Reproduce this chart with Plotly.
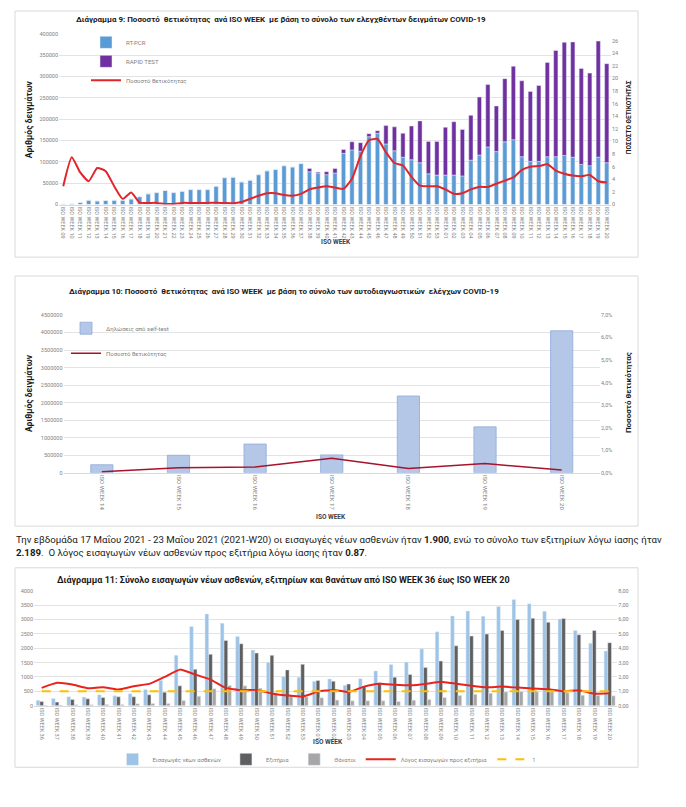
import plotly.graph_objects as go

# page body has an 8px margin, so the figure is drawn 8px in from the window edge
OFF = 8
W, H = 686 - OFF, 807 - OFF
def X(p):
    return (p - OFF) / W
def Y(p):
    return 1 - (p - OFF) / H

# ---------------- Chart 9 data ----------------
periods9 = (["2020-W%02d" % w for w in range(9, 54)] +
            ["2021-W%02d" % w for w in range(1, 21)])
labels9 = (["ISO WEEK %02d" % w for w in range(9, 54)] +
           ["ISO WEEK %02d" % w for w in range(1, 21)])
rt_pcr = [500, 1200, 5000, 10000, 8500, 9500, 10000, 10000, 13000, 18500,
          25000, 28000, 33000, 28000, 31000, 35000, 35000, 35000, 43000, 63000,
          64000, 53000, 57000, 70000, 79000, 82000, 91000, 88000, 96000, 77000,
          74000, 70000, 74000, 120000, 128000, 125000, 159000, 167000, 142000, 126000,
          111000, 105000, 98000, 72000, 69000,
          69000, 69000, 67000, 104000, 116000, 135000, 124000, 147000, 152000, 112000,
          101000, 101000, 112000, 112000, 115000, 111000, 94000, 91000, 111000, 98000]
rapid = [0] * 29 + [7500, 2000, 7000, 10500, 9000, 19000, 20000, 7000, 6000, 43000,
                    56000, 56000, 79000, 98000, 76000, 79000,
                    112000, 125000, 109000, 105000, 136000, 146000, 107000, 148000, 172000, 178000,
                    164000, 178000, 221000, 249000, 265000, 270000, 225000, 217000, 272000, 232000]
positivity9 = [2.9, 7.5, 5.1, 3.7, 5.8, 5.3, 2.9, 0.9, 1.9, 0.3,
               0.26, 0.26, 0.1, 0.1, 0.26, 0.26, 0.26, 0.26, 0.3, 0.26,
               0.2, 0.4, 0.9, 1.4, 1.8, 1.8, 1.5, 1.4, 1.7, 2.4,
               2.7, 2.9, 2.7, 2.5, 4.1, 7.7, 10.2, 10.4, 8.3, 6.6,
               6.2, 4.4, 3.0, 2.9, 2.9,
               2.4, 1.7, 1.8, 2.4, 2.8, 2.8, 3.3, 3.8, 4.3, 5.5,
               6.0, 6.1, 6.4, 5.4, 4.9, 4.6, 4.5, 4.7, 3.7, 3.5]

# ---------------- Chart 10 data ----------------
weeks10 = ["ISO WEEK 14", "ISO WEEK 15", "ISO WEEK 16", "ISO WEEK 17",
           "ISO WEEK 18", "ISO WEEK 19", "ISO WEEK 20"]
selftests = [230000, 500000, 820000, 510000, 2190000, 1310000, 4050000]
positivity10 = [0.05, 0.22, 0.26, 0.65, 0.19, 0.41, 0.12]

# ---------------- Chart 11 data ----------------
periods11 = (["2020-W%02d" % w for w in range(36, 54)] +
             ["2021-W%02d" % w for w in range(1, 21)])
labels11 = (["ISO WEEK %02d" % w for w in range(36, 54)] +
            ["ISO WEEK %02d" % w for w in range(1, 21)])
admissions = [190, 253, 311, 300, 380, 345, 415, 565, 887, 1751, 2753, 3191, 2869, 2408,
              1935, 1509, 1014, 991,
              853, 933, 709, 937, 1211, 1429, 1520, 1977, 2571, 3120, 3291, 3109, 3451,
              3691, 3543, 3280, 3017, 2617, 2171, 1900]
discharges = [150, 127, 219, 242, 288, 311, 311, 380, 472, 691, 1267, 1786, 2270, 2154,
              1832, 1751, 1244, 1440,
              876, 853, 754, 686, 800, 994, 1086, 1326, 1554, 2080, 2423, 2491, 2617,
              2994, 3040, 2903, 3029, 2469, 2617, 2189]
deaths = [20, 25, 35, 35, 40, 45, 70, 80, 80, 184, 334, 588, 703, 691, 610, 449, 357, 311,
          276, 196, 171, 171, 171, 149, 194, 217, 286, 354, 400, 434, 480, 491, 491, 480,
          457, 366, 354, 343]
ratio = [1.24, 1.59, 1.47, 1.22, 1.29, 1.13, 1.36, 1.52, 2.0, 2.51, 2.17, 1.82, 1.24, 1.08,
         1.1, 0.84, 0.72, 0.64,
         0.98, 1.1, 0.95, 1.33, 1.53, 1.46, 1.42, 1.51, 1.67, 1.53, 1.39, 1.28, 1.33,
         1.26, 1.19, 1.15, 1.0, 1.08, 0.84, 0.87]
ones = [1] * len(periods11)

FONT = "Roboto"
TICK = dict(family=FONT, size=5.5, color="#7f7f7f")
LEG = dict(family=FONT, size=6, color="#7f7f7f")

fig = go.Figure()

# ---- Chart 9 traces ----
fig.add_bar(x=periods9, y=rt_pcr, name="RT-PCR", marker_color="#5B9BD5",
            offset=-0.25, width=0.5, xaxis="x", yaxis="y", legend="legend",
            legendgroup="a")
fig.add_bar(x=periods9, y=rapid, base=rt_pcr, name="RAPID TEST", marker_color="#7030A0",
            offset=-0.25, width=0.5, xaxis="x", yaxis="y", legend="legend",
            legendgroup="b")
fig.add_scatter(x=periods9, y=positivity9, name="Ποσοστό θετικότητας", mode="lines",
                line=dict(color="#E0262B", width=2, shape="spline", smoothing=0.5),
                xaxis="x", yaxis="y2", legend="legend", legendgroup="c")

# ---- Chart 10 traces ----
fig.add_bar(x=weeks10, y=selftests, name="Δηλώσεις από self-test",
            marker=dict(color="#B4C7E7", line=dict(color="#8FAADC", width=0.8)),
            offset=-0.145, width=0.29, xaxis="x2", yaxis="y3", legend="legend2",
            legendgroup="d")
fig.add_scatter(x=weeks10, y=positivity10, name="Ποσοστό θετικότητας", mode="lines",
                line=dict(color="#A8122A", width=1.5),
                xaxis="x2", yaxis="y4", legend="legend2", legendgroup="e")

# ---- Chart 11 traces ----
fig.add_bar(x=periods11, y=admissions, name="Εισαγωγές νέων ασθενών", marker_color="#9DC3E6",
            offset=-0.36, width=0.24, xaxis="x3", yaxis="y5", legend="legend3")
fig.add_bar(x=periods11, y=discharges, name="Εξιτήρια", marker_color="#5F5F5F",
            offset=-0.12, width=0.24, xaxis="x3", yaxis="y5", legend="legend3")
fig.add_bar(x=periods11, y=deaths, name="Θάνατοι", marker_color="#A6A6A6",
            offset=0.12, width=0.24, xaxis="x3", yaxis="y5", legend="legend3")
fig.add_scatter(x=periods11, y=ratio, name="Λόγος εισαγωγών προς εξιτήρια", mode="lines",
                line=dict(color="#E8231E", width=2, shape="spline", smoothing=0.4),
                xaxis="x3", yaxis="y6", legend="legend3")
fig.add_scatter(x=periods11, y=ones, name="1", mode="lines",
                line=dict(color="#FFC000", width=2, dash="dash"),
                xaxis="x3", yaxis="y6", legend="legend3")

GRID = "#E3E3E3"
common_x = dict(type="category", tickangle=90, tickfont=TICK, showgrid=False,
                showline=True, linecolor="#D9D9D9", linewidth=0.8, ticks="", fixedrange=True)
common_y = dict(tickfont=TICK, gridcolor=GRID, gridwidth=0.8, zeroline=False,
                showline=False, ticks="", fixedrange=True)

shapes = []
for (x0, y0, x1, y1) in [(15, 8, 638, 256), (15, 275, 638, 527), (15, 569, 638, 770)]:
    shapes.append(dict(type="rect", xref="paper", yref="paper",
                       x0=X(x0), x1=X(x1), y0=Y(y1), y1=Y(y0),
                       line=dict(color="#D9D9D9", width=1), fillcolor="rgba(0,0,0,0)",
                       layer="below"))

def ann(text, x, y, size, bold=False, angle=0, color="#404040", xanchor="center",
        yanchor="middle", align="center"):
    return dict(text=("<b>%s</b>" % text) if bold else text, x=X(x), y=Y(y),
                xref="paper", yref="paper", showarrow=False, textangle=angle,
                font=dict(family=FONT, size=size, color=color),
                xanchor=xanchor, yanchor=yanchor, align=align)

annotations = [
    ann("Διάγραμμα 9: Ποσοστό  θετικότητας  ανά ISO WEEK  με βάση το σύνολο των ελεγχθέντων δειγμάτων COVID-19",
        281, 17, 8, bold=True, color="#1a1a1a"),
    ann("Αριθμός δειγμάτων", 29, 117, 8.5, bold=True, angle=-90, color="#1a1a1a"),
    ann("ΠΟΣΟΣΤΟ ΘΕΤΙΚΟΤΗΤΑΣ", 629, 115, 6.5, bold=True, angle=-90, color="#1a1a1a"),
    ann("ISO WEEK", 336, 241, 6.5, bold=True, color="#404040"),

    ann("Διάγραμμα 10: Ποσοστό  θετικότητας  ανά ISO WEEK  με βάση το σύνολο των αυτοδιαγνωστικών  ελέγχων COVID-19",
        284, 291, 8, bold=True, color="#1a1a1a"),
    ann("Αριθμός δειγμάτων", 29, 393, 8.5, bold=True, angle=-90, color="#1a1a1a"),
    ann("Ποσοστό θετικότητας", 628, 393, 8, bold=True, angle=-90, color="#1a1a1a"),
    ann("ISO WEEK", 331, 518, 6.5, bold=True, color="#404040"),

    ann("Την εβδομάδα 17 Μαΐου 2021 - 23 Μαΐου 2021 (2021-W20) οι εισαγωγές νέων ασθενών ήταν <b>1.900</b>, "
        "ενώ το σύνολο των εξιτηρίων λόγω ίασης ήταν<br><b>2.189</b>.  Ο λόγος εισαγωγών νέων ασθενών "
        "προς εξιτήρια λόγω ίασης ήταν <b>0.87</b>.",
        14, 533, 9.7, color="#1a1a1a", xanchor="left", yanchor="top", align="left"),

    ann("Διάγραμμα 11: Σύνολο εισαγωγών νέων ασθενών, εξιτηρίων και θανάτων από ISO WEEK 36 έως ISO WEEK 20",
        283, 581, 9, bold=True, color="#1a1a1a"),
    ann("ISO WEEK", 328, 745, 6.5, bold=True, color="#404040"),
]

fig.update_layout(
    width=W, height=H, autosize=False,
    margin=dict(l=0, r=0, t=0, b=0),
    paper_bgcolor="white", plot_bgcolor="rgba(0,0,0,0)",
    barmode="overlay", separators=",.",
    showlegend=True,
    font=dict(family=FONT, color="#404040"),
    xaxis=dict(common_x, domain=[X(59), X(611)], anchor="y",
               tickvals=periods9, ticktext=labels9),
    yaxis=dict(common_y, domain=[Y(203), Y(31)], range=[0, 400000], dtick=50000,
               tickformat="d", anchor="x"),
    yaxis2=dict(common_y, overlaying="y", side="right", range=[0, 27.1], dtick=2,
                showgrid=False, anchor="x"),
    xaxis2=dict(common_x, domain=[X(63.5), X(600)], anchor="y3",
                tickfont=dict(family=FONT, size=6, color="#7f7f7f")),
    yaxis3=dict(common_y, domain=[Y(473.3), Y(314.3)], range=[0, 4500000], dtick=500000,
                tickformat="d", anchor="x2"),
    yaxis4=dict(common_y, overlaying="y3", side="right", range=[0, 7], dtick=1,
                tickformat=".1f", ticksuffix="%", showgrid=False, anchor="x2"),
    xaxis3=dict(common_x, domain=[X(34), X(617.3)], anchor="y5",
                tickvals=periods11, ticktext=labels11),
    yaxis5=dict(common_y, domain=[Y(708), Y(592)], range=[0, 4000], dtick=500,
                tickformat="d", anchor="x3"),
    yaxis6=dict(common_y, overlaying="y5", side="right", range=[0, 8], dtick=1,
                tickformat=".2f", showgrid=False, anchor="x3"),
    legend=dict(x=X(86), y=Y(25), xanchor="left", yanchor="top", orientation="v",
                font=LEG, bgcolor="rgba(0,0,0,0)", tracegroupgap=0, itemwidth=30),
    legend2=dict(x=X(66), y=Y(313), xanchor="left", yanchor="top", orientation="v",
                 font=LEG, bgcolor="rgba(0,0,0,0)", tracegroupgap=6, itemwidth=30),
    legend3=dict(x=X(327), y=Y(762), xanchor="center", yanchor="middle", orientation="h",
                 font=dict(family=FONT, size=5.8, color="#7f7f7f"),
                 bgcolor="rgba(0,0,0,0)", itemwidth=30),
    shapes=shapes,
    annotations=annotations,
)

fig.write_html("out.html")
